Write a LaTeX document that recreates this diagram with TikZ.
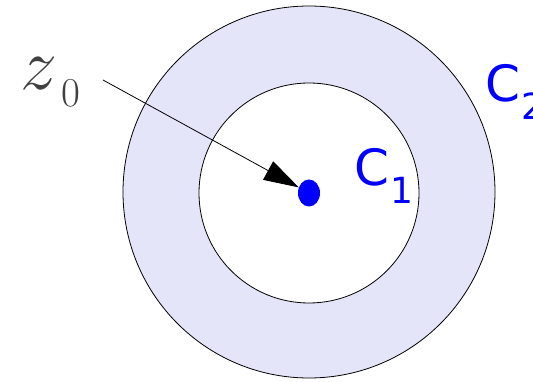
\RequirePackage{fix-cm}
\documentclass[tikz,border=0pt]{standalone}
\usepackage{fontspec}
\newfontfamily\labelfont{DejaVu Sans}
\usetikzlibrary{arrows.meta,shapes.geometric}
\definecolor{ringfill}{RGB}{229,229,250}
\definecolor{zgray}{RGB}{64,64,64}
\newcommand{\curvelabel}[1]{\labelfont C\kern1pt\raisebox{-18pt}{\fontsize{36}{36}\selectfont #1}}

\begin{document}
\begin{tikzpicture}[x=1pt,y=-1pt,
  ring/.style={draw=black,line width=0.8pt},
  curvename/.style={text=blue,anchor=base west,inner sep=0pt,font=\fontsize{50}{50}\selectfont}]
  \useasboundingbox (0,0) rectangle (533,382);
  % annulus between C_1 and C_2
  \filldraw[ring,fill=ringfill] (309,192) circle[radius=186];
  \filldraw[ring,fill=white] (309,193) circle[radius=110];
  \node[ellipse,fill=blue,minimum width=22pt,minimum height=27pt,inner sep=0pt] (dot) at (309,193) {};
  \node[curvename] (c1) at (354,186) {\curvelabel{1}};
  \node[curvename] (c2) at (485,102) {\curvelabel{2}};
  \node[text=zgray,anchor=base west,inner sep=0pt] (zlab) at (20,90)
    {\fontsize{74}{74}\selectfont$z$\kern4pt\raisebox{-17pt}{\fontsize{41}{41}\selectfont 0}};
  \coordinate (zstart) at (103,80);
  \draw[line width=0.8pt,-{Triangle[length=35pt,width=21pt]}] (zstart) -- (dot);
\end{tikzpicture}
\end{document}
